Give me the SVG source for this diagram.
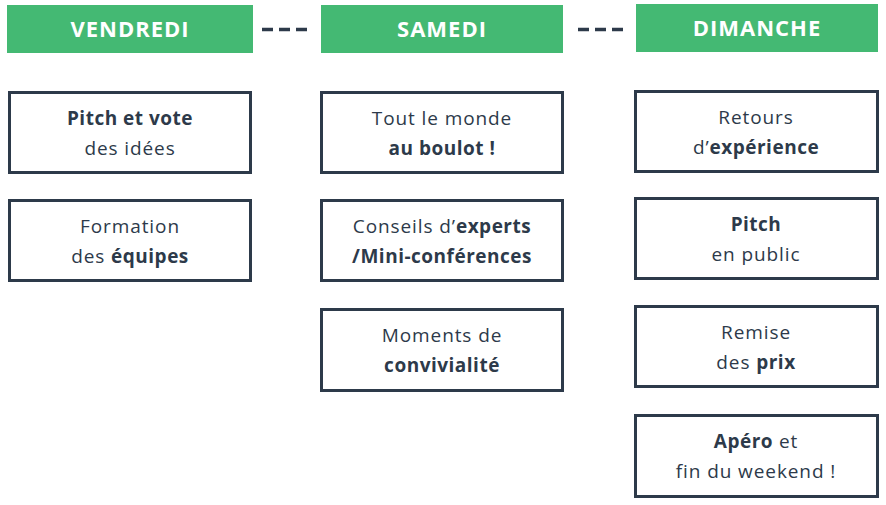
<svg xmlns="http://www.w3.org/2000/svg" width="886" height="505" viewBox="0 0 886 505">
<style>
.hd{fill:#44b973}
.ht{fill:#ffffff;font-family:"Open Sans",sans-serif;font-weight:700;font-size:22px;letter-spacing:1px;text-anchor:middle}
.bx{fill:#ffffff;stroke:#2d3a4a;stroke-width:3}
.t{fill:#2d3a4a;font-family:"Open Sans",sans-serif;font-size:19px;letter-spacing:0.9px;text-anchor:middle}
.b{font-weight:700;letter-spacing:0.5px}
.dash{stroke:#2d3a4a;stroke-width:3.5;stroke-dasharray:11 6}
</style>
<rect width="886" height="505" fill="#ffffff"/>
<g id="connectors">
<line class="dash" x1="262" y1="29.5" x2="307" y2="29.5"/>
<line class="dash" x1="578" y1="29.5" x2="623" y2="29.5"/>
</g>
<g id="vendredi"><rect class="hd" x="7" y="5" width="246" height="48"/><text class="ht" x="130" y="37">VENDREDI</text></g>
<g id="samedi"><rect class="hd" x="321" y="5" width="242" height="48"/><text class="ht" x="442" y="37">SAMEDI</text></g>
<g id="dimanche"><rect class="hd" x="636" y="4" width="242" height="48"/><text class="ht" x="757" y="36">DIMANCHE</text></g>

<g id="pitch-vote"><rect class="bx" x="9.5" y="92.5" width="241" height="80"/><text class="t" x="130" y="125"><tspan class="b">Pitch et vote</tspan></text><text class="t" x="130" y="155">des idées</text></g>
<g id="formation"><rect class="bx" x="9.5" y="200.5" width="241" height="80"/><text class="t" x="130" y="233">Formation</text><text class="t" x="130" y="263">des <tspan class="b">équipes</tspan></text></g>

<g id="boulot"><rect class="bx" x="321.5" y="92.5" width="241" height="80"/><text class="t" x="442" y="125">Tout le monde</text><text class="t" x="442" y="155"><tspan class="b">au boulot !</tspan></text></g>
<g id="conseils"><rect class="bx" x="321.5" y="200.5" width="241" height="80"/><text class="t" x="442" y="233">Conseils d’<tspan class="b">experts</tspan></text><text class="t" x="442" y="263"><tspan class="b">/Mini-conférences</tspan></text></g>
<g id="convivialite"><rect class="bx" x="321.5" y="309.5" width="241" height="81"/><text class="t" x="442" y="342">Moments de</text><text class="t" x="442" y="372"><tspan class="b">convivialité</tspan></text></g>

<g id="retours"><rect class="bx" x="635.5" y="91.5" width="242" height="80"/><text class="t" x="756" y="124">Retours</text><text class="t" x="756" y="154">d’<tspan class="b">expérience</tspan></text></g>
<g id="pitch-public"><rect class="bx" x="635.5" y="198.5" width="242" height="80"/><text class="t" x="756" y="231"><tspan class="b">Pitch</tspan></text><text class="t" x="756" y="261">en public</text></g>
<g id="remise"><rect class="bx" x="635.5" y="306.5" width="242" height="80"/><text class="t" x="756" y="339">Remise</text><text class="t" x="756" y="369">des <tspan class="b">prix</tspan></text></g>
<g id="apero"><rect class="bx" x="635.5" y="415.5" width="242" height="81"/><text class="t" x="756" y="448"><tspan class="b">Apéro</tspan> et</text><text class="t" x="756" y="478">fin du weekend !</text></g>
</svg>
